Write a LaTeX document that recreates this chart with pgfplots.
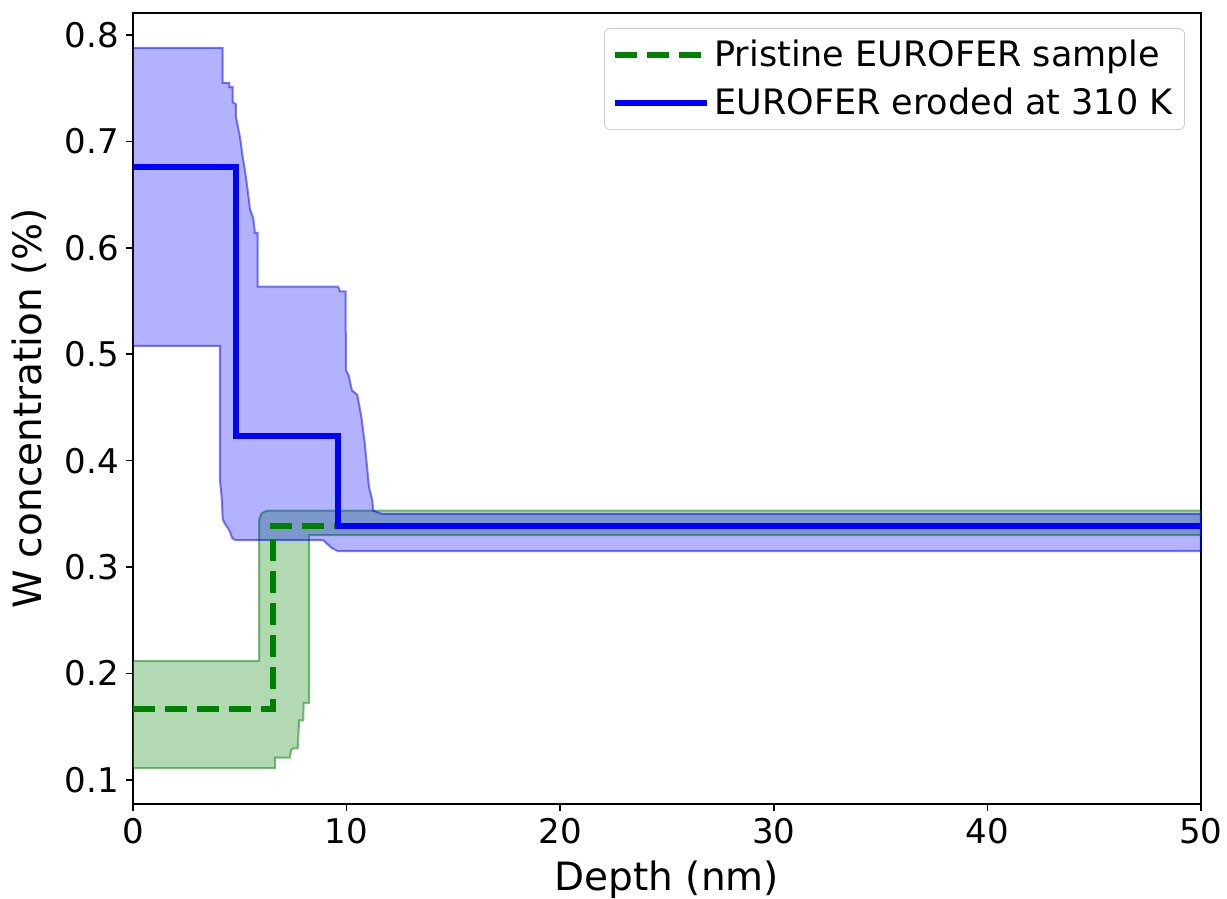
\documentclass[border=0pt]{standalone}
\usepackage{pgfplots}
\pgfplotsset{compat=1.18}
\usepackage{fontspec}
\setmainfont{DejaVu Sans}
\definecolor{mplgreen}{RGB}{0,128,0}
\definecolor{mplblue}{RGB}{0,0,255}
\begin{document}
\begin{tikzpicture}
\path[use as bounding box] (-66.5pt,-47.5pt) rectangle (547pt,402pt);
\begin{axis}[
  at={(0,0)}, anchor=south west,
  scale only axis, width=534pt, height=395.5pt,
  xmin=0, xmax=50, ymin=0.0774, ymax=0.8207,
  xtick={0,10,20,30,40,50},
  ytick={0.1,0.2,0.3,0.4,0.5,0.6,0.7,0.8},
  yticklabel style={/pgf/number format/.cd, fixed, precision=1, fixed zerofill},
  /pgf/number format/assume math mode=true,
  tick align=outside, tick pos=left,
  major tick length=3.5pt,
  every tick/.style={black, line width=0.8pt},
  axis line style={line width=1pt},
  ticklabel style={font=\fontsize{17}{20}\selectfont},
  xlabel={Depth (nm)}, ylabel={W concentration (\%)},
  label style={font=\fontsize{19.5}{23}\selectfont},
  xlabel style={yshift=-1.5pt},
  ylabel style={yshift=2pt},
  legend style={at={(1,1)}, anchor=north east, xshift=-8pt, yshift=-7.5pt,
    draw=black!20, rounded corners=3pt, font=\fontsize{17.5}{21}\selectfont,
    inner xsep=4pt, inner ysep=4pt, row sep=5pt, cells={anchor=west}},
  legend image code/.code={\path (0pt,0pt) -- (46pt,0pt); \draw[#1] (0pt,0pt) -- (38pt,0pt);},
]
% green band
\addplot[draw=mplgreen, draw opacity=0.5, line width=1pt, fill=mplgreen, fill opacity=0.3, forget plot] coordinates {
(0,0.212) (5.91,0.212) (5.91,0.345) (6.0,0.350) (6.15,0.352) (6.3,0.353) (50,0.353)
(50,0.330) (8.24,0.330) (8.24,0.1725) (7.99,0.1725) (7.97,0.156) (7.78,0.156) (7.71,0.1296) (7.5,0.1296) (7.4,0.128) (7.35,0.121) (6.65,0.121) (6.65,0.111) (0,0.111)
} -- cycle;
% blue band
\addplot[draw=mplblue, draw opacity=0.5, line width=1pt, fill=mplblue, fill opacity=0.3, forget plot] coordinates {
(0,0.788) (4.2,0.788) (4.2,0.755) (4.51,0.755) (4.51,0.751) (4.66,0.751) (4.66,0.737) (4.82,0.735) (4.82,0.723) (4.88,0.717) (5.01,0.704) (5.13,0.686) (5.24,0.673) (5.35,0.657) (5.48,0.636) (5.63,0.628) (5.71,0.614) (5.84,0.614) (5.84,0.5635)
(9.6,0.5635) (9.7,0.559) (9.95,0.559) (9.97,0.485) (10.1,0.48) (10.25,0.466) (10.5,0.462) (10.7,0.44) (10.85,0.4165) (11.05,0.375) (11.2,0.363) (11.25,0.353) (11.65,0.350) (50,0.350)
(50,0.315) (9.6,0.315) (9.3,0.318) (8.9,0.3254) (4.8,0.3254) (4.65,0.327) (4.5,0.335) (4.3,0.341) (4.2,0.345) (4.15,0.366) (4.07,0.382) (4.07,0.508) (0,0.508)
} -- cycle;
% means
\addplot[mplgreen, line width=3pt, dash pattern=on 11pt off 5pt, const plot] coordinates {
(0,0.167) (6.57,0.339) (50,0.339)
};
\addlegendentry{Pristine EUROFER sample}
\addplot[mplblue, line width=3pt, const plot] coordinates {
(0,0.676) (4.82,0.423) (9.6,0.339) (50,0.339)
};
\addlegendentry{EUROFER eroded at 310 K}
\end{axis}
\end{tikzpicture}
\end{document}
